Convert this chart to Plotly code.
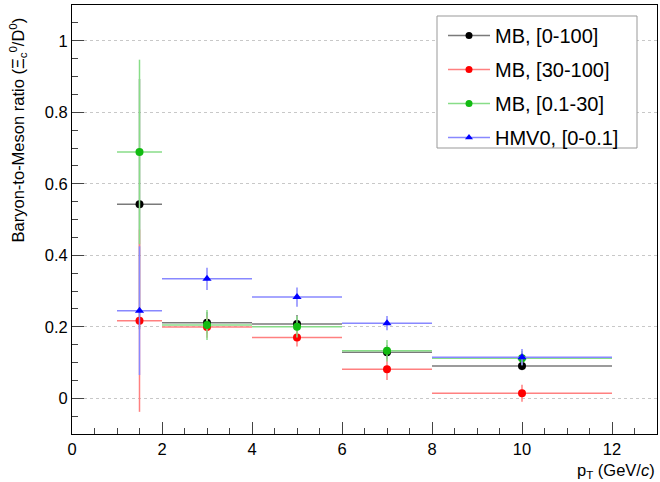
import plotly.graph_objects as go

# ---- data ----
pt_centers = [1.5, 3, 5, 7, 10]
pt_halfwidth = [0.5, 1, 1, 1, 2]

mb_0_100 = [0.543, 0.211, 0.208, 0.129, 0.090]
mb_0_100_err = [0.35, 0.030, 0.025, 0.020, 0.012]

mb_30_100 = [0.217, 0.199, 0.170, 0.081, 0.014]
mb_30_100_err = [0.255, 0.030, 0.025, 0.030, 0.024]

mb_01_30 = [0.689, 0.205, 0.200, 0.133, 0.112]
mb_01_30_err = [0.258, 0.042, 0.030, 0.030, 0.020]

hmv0_0_01 = [0.245, 0.334, 0.283, 0.210, 0.115]
hmv0_0_01_err = [0.180, 0.031, 0.027, 0.020, 0.023]

series = [
    ("MB, [0-100]", mb_0_100, mb_0_100_err, "#000000", "#7a7a7a", "circle"),
    ("MB, [30-100]", mb_30_100, mb_30_100_err, "#ff0000", "#ff8080", "circle"),
    ("MB, [0.1-30]", mb_01_30, mb_01_30_err, "#11bb11", "#88dd88", "circle"),
    ("HMV0, [0-0.1]", hmv0_0_01, hmv0_0_01_err, "#0000ff", "#8888ff", "triangle-up"),
]

FONT = "Liberation Sans, Arial, Helvetica, sans-serif"

# plot-area geometry (pixels) used to place the legend frame
W, H = 660, 482
ML, MR, MT, MB = 72, 3, 5, 48
PW, PH = W - ML - MR, H - MT - MB


def px_x(px):
    return (px - ML) / PW


def px_y(py):
    return (H - MB - py) / PH


fig = go.Figure()
for i, (name, vals, errs, col, ecol, sym) in enumerate(series):
    fig.add_trace(go.Scatter(
        x=pt_centers, y=vals, mode="markers", name=name, showlegend=False,
        marker=dict(color=col, size=8, symbol=sym),
        error_x=dict(type="data", array=pt_halfwidth, color=ecol, thickness=1.5, width=0),
        error_y=dict(type="data", array=errs, color=ecol, thickness=1.5, width=0),
    ))
    # legend proxy
    fig.add_trace(go.Scatter(
        x=[None], y=[None], mode="lines+markers", name=name, legendgroup=f"g{i}",
        marker=dict(color=col, size=7, symbol=sym),
        line=dict(color=ecol, width=1.5),
    ))

fig.update_layout(
    width=W, height=H,
    margin=dict(l=ML, r=MR, t=MT, b=MB),
    paper_bgcolor="white", plot_bgcolor="white",
    font=dict(family=FONT, size=16.5, color="black"),
    legend=dict(
        x=px_x(443), y=px_y(16), xanchor="left", yanchor="top",
        bgcolor="rgba(0,0,0,0)", borderwidth=0,
        font=dict(size=20), tracegroupgap=5, itemwidth=42,
    ),
    xaxis=dict(
        range=[0, 13], dtick=2, tick0=0, ticks="inside", ticklen=12,
        showgrid=False, zeroline=False, showline=True, linecolor="black",
        linewidth=1, mirror=True,
        minor=dict(dtick=0.5, ticks="inside", ticklen=6, showgrid=False),
        tickfont=dict(size=16.5),
    ),
    yaxis=dict(
        range=[-0.1, 1.1], dtick=0.2, tick0=0, ticks="inside", ticklen=12,
        showgrid=True, gridcolor="#c8c8c8", griddash="dot", gridwidth=1,
        zeroline=False, showline=True, linecolor="black", linewidth=1, mirror=True,
        minor=dict(dtick=0.05, ticks="inside", ticklen=6, showgrid=False),
        tickfont=dict(size=16.5),
    ),
    shapes=[
        dict(type="rect", xref="paper", yref="paper",
             x0=px_x(437), x1=px_x(637), y0=px_y(148), y1=px_y(16),
             fillcolor="white", line=dict(color="#999999", width=1), layer="above"),
    ],
    annotations=[
        dict(text="Baryon-to-Meson ratio (Ξ<sub>c</sub><sup>0</sup>/D<sup>0</sup>)",
             xref="paper", yref="paper", x=-0.092, y=0.975,
             xanchor="center", yanchor="top", textangle=-90, showarrow=False,
             font=dict(size=16.5)),
        dict(text="p<sub>T</sub> (GeV/<i>c</i>)",
             xref="paper", yref="paper", x=1.0, y=-0.086,
             xanchor="right", yanchor="middle", showarrow=False,
             font=dict(size=16.5)),
    ],
)

fig.write_html("out.html")
